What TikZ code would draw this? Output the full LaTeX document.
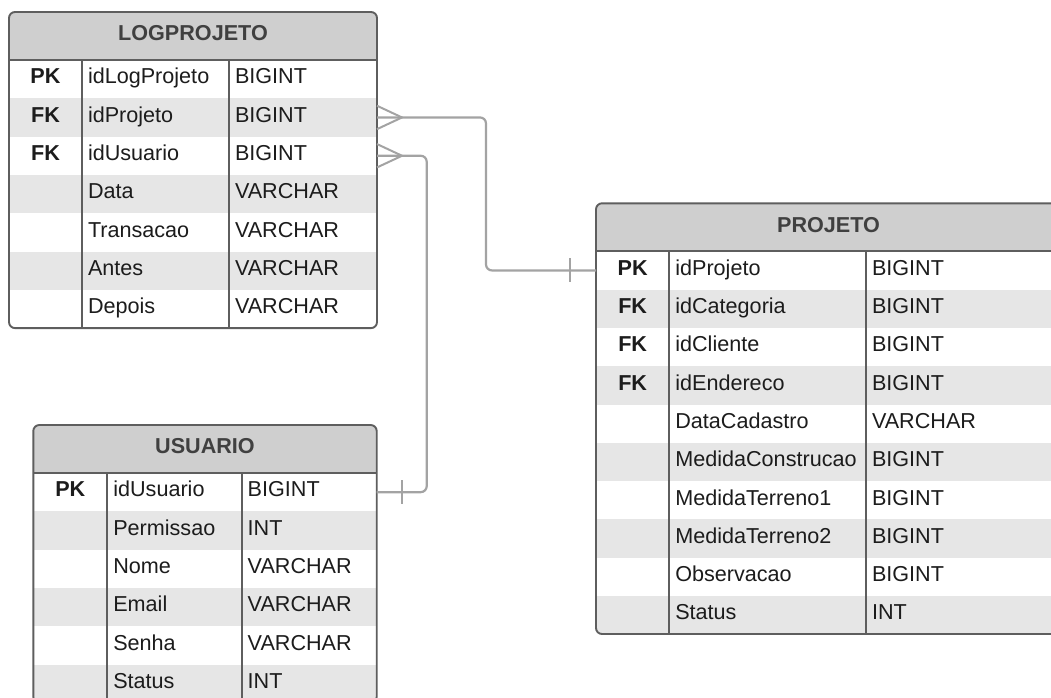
\documentclass[tikz,border=0pt]{standalone}
\usepackage{fontspec}
\setmainfont{Liberation Sans}

\definecolor{frame}{HTML}{5E5E5E}
\definecolor{headfill}{HTML}{CFCFCF}
\definecolor{stripe}{HTML}{E6E6E6}
\definecolor{titleink}{HTML}{404040}
\definecolor{cellink}{HTML}{1C1C1C}
\definecolor{link}{HTML}{A3A3A3}

% One ERD entity table.
% #1 name, #2 left x, #3 first divider x, #4 second divider x, #5 right x,
% #6 top y, #7 bottom y, #8 title, #9 rows as key/field/type
\newcommand\erdtable[9]{%
  \pgfmathsetmacro\tabhb{#6+48}%
  \begin{scope}
    \clip[rounded corners=6] (#2,#6) rectangle (#5,#7);
    \fill[white] (#2,#6) rectangle (#5,#7);
    \fill[headfill] (#2,#6) rectangle (#5,\tabhb);
    \foreach \k/\f/\t [count=\i] in {#9} {
      \pgfmathsetmacro\rowtop{\tabhb+(\i-1)*38.3}%
      \pgfmathsetmacro\rowbot{\rowtop+38.3}%
      \ifodd\i\else\fill[stripe] (#2,\rowtop) rectangle (#5,\rowbot);\fi
    }
  \end{scope}
  \node[titletext] (#1) at ({(#2+#5)/2},#6+28.7) {#8};
  \foreach \k/\f/\t [count=\i] in {#9} {
    \pgfmathsetmacro\rowtop{\tabhb+(\i-1)*38.3}%
    \pgfmathsetmacro\rowbase{\rowtop+19.15+4.8}%
    \node[rowslot, minimum width={#5-#2}, anchor=north west] (#1-r\i) at (#2,\rowtop) {};
    \node[keytext] (#1-k\i) at ({(#2+#3)/2},\rowbase) {\k};
    \node[celltext] (#1-f\i) at (#3+6,\rowbase) {\f};
    \node[celltext] (#1-t\i) at (#4+6,\rowbase) {\t};
  }
  \draw[divider] (#2,\tabhb) -- (#5,\tabhb);
  \draw[divider] (#3,\tabhb) -- (#3,#7);
  \draw[divider] (#4,\tabhb) -- (#4,#7);
  \draw[outline] (#2,#6) rectangle (#5,#7);
}

\begin{document}
\begin{tikzpicture}[x=1pt,y=-1pt,
  txt/.style={font=\fontsize{21.6pt}{26pt}\selectfont, inner sep=0pt, outer sep=0pt},
  titletext/.style={txt, anchor=base, text=titleink, font=\fontsize{21.6pt}{26pt}\selectfont\bfseries},
  keytext/.style={txt, anchor=base, text=cellink, font=\fontsize{21.6pt}{26pt}\selectfont\bfseries},
  celltext/.style={txt, anchor=base west, text=cellink},
  rowslot/.style={inner sep=0pt, outer sep=0pt, minimum height=38.3pt},
  divider/.style={draw=frame, line width=1.7pt},
  outline/.style={draw=frame, line width=1.9pt, rounded corners=6},
  link/.style={draw=link, line width=2.2pt, rounded corners=6},
  linkmark/.style={draw=link, line width=2pt}
]
\useasboundingbox (0,0) rectangle (1051,697);
\clip (0,0) rectangle (1051,697);

\erdtable{logprojeto}{9}{82}{229}{377}{12}{328.1}{LOGPROJETO}{%
  PK/idLogProjeto/BIGINT, FK/idProjeto/BIGINT, FK/idUsuario/BIGINT,
  {}/Data/VARCHAR, {}/Transacao/VARCHAR, {}/Antes/VARCHAR, {}/Depois/VARCHAR}

\erdtable{usuario}{33.3}{107.3}{241.7}{376.7}{425}{702.8}{USUARIO}{%
  PK/idUsuario/BIGINT, {}/Permissao/INT, {}/Nome/VARCHAR,
  {}/Email/VARCHAR, {}/Senha/VARCHAR, {}/Status/INT}

\erdtable{projeto}{596}{669.3}{866}{1061}{203.3}{634}{PROJETO}{%
  PK/idProjeto/BIGINT, FK/idCategoria/BIGINT, FK/idCliente/BIGINT,
  FK/idEndereco/BIGINT, {}/DataCadastro/VARCHAR, {}/MedidaConstrucao/BIGINT,
  {}/MedidaTerreno1/BIGINT, {}/MedidaTerreno2/BIGINT, {}/Observacao/BIGINT,
  {}/Status/INT}

% vertical runs of the two relationship lines
\coordinate (jogprojeto) at (486,0);
\coordinate (jogusuario) at (426.7,0);

% LOGPROJETO.idProjeto (many) -> PROJETO.idProjeto (one)
\draw[link] (logprojeto-r2.east) -- (logprojeto-r2.east -| jogprojeto)
  -- (jogprojeto |- projeto-r1.west) -- (projeto-r1.west);
\draw[linkmark] ([yshift=11.7pt]logprojeto-r2.east) -- ([xshift=25pt]logprojeto-r2.east)
  -- ([yshift=-11.7pt]logprojeto-r2.east);
\draw[linkmark] ([xshift=-26pt,yshift=12pt]projeto-r1.west) -- ([xshift=-26pt,yshift=-12pt]projeto-r1.west);

% LOGPROJETO.idUsuario (many) -> USUARIO.idUsuario (one)
\draw[link] (logprojeto-r3.east) -- (logprojeto-r3.east -| jogusuario)
  -- (jogusuario |- usuario-r1.east) -- (usuario-r1.east);
\draw[linkmark] ([yshift=11.7pt]logprojeto-r3.east) -- ([xshift=25pt]logprojeto-r3.east)
  -- ([yshift=-11.7pt]logprojeto-r3.east);
\draw[linkmark] ([xshift=25pt,yshift=12pt]usuario-r1.east) -- ([xshift=25pt,yshift=-12pt]usuario-r1.east);
\end{tikzpicture}
\end{document}
